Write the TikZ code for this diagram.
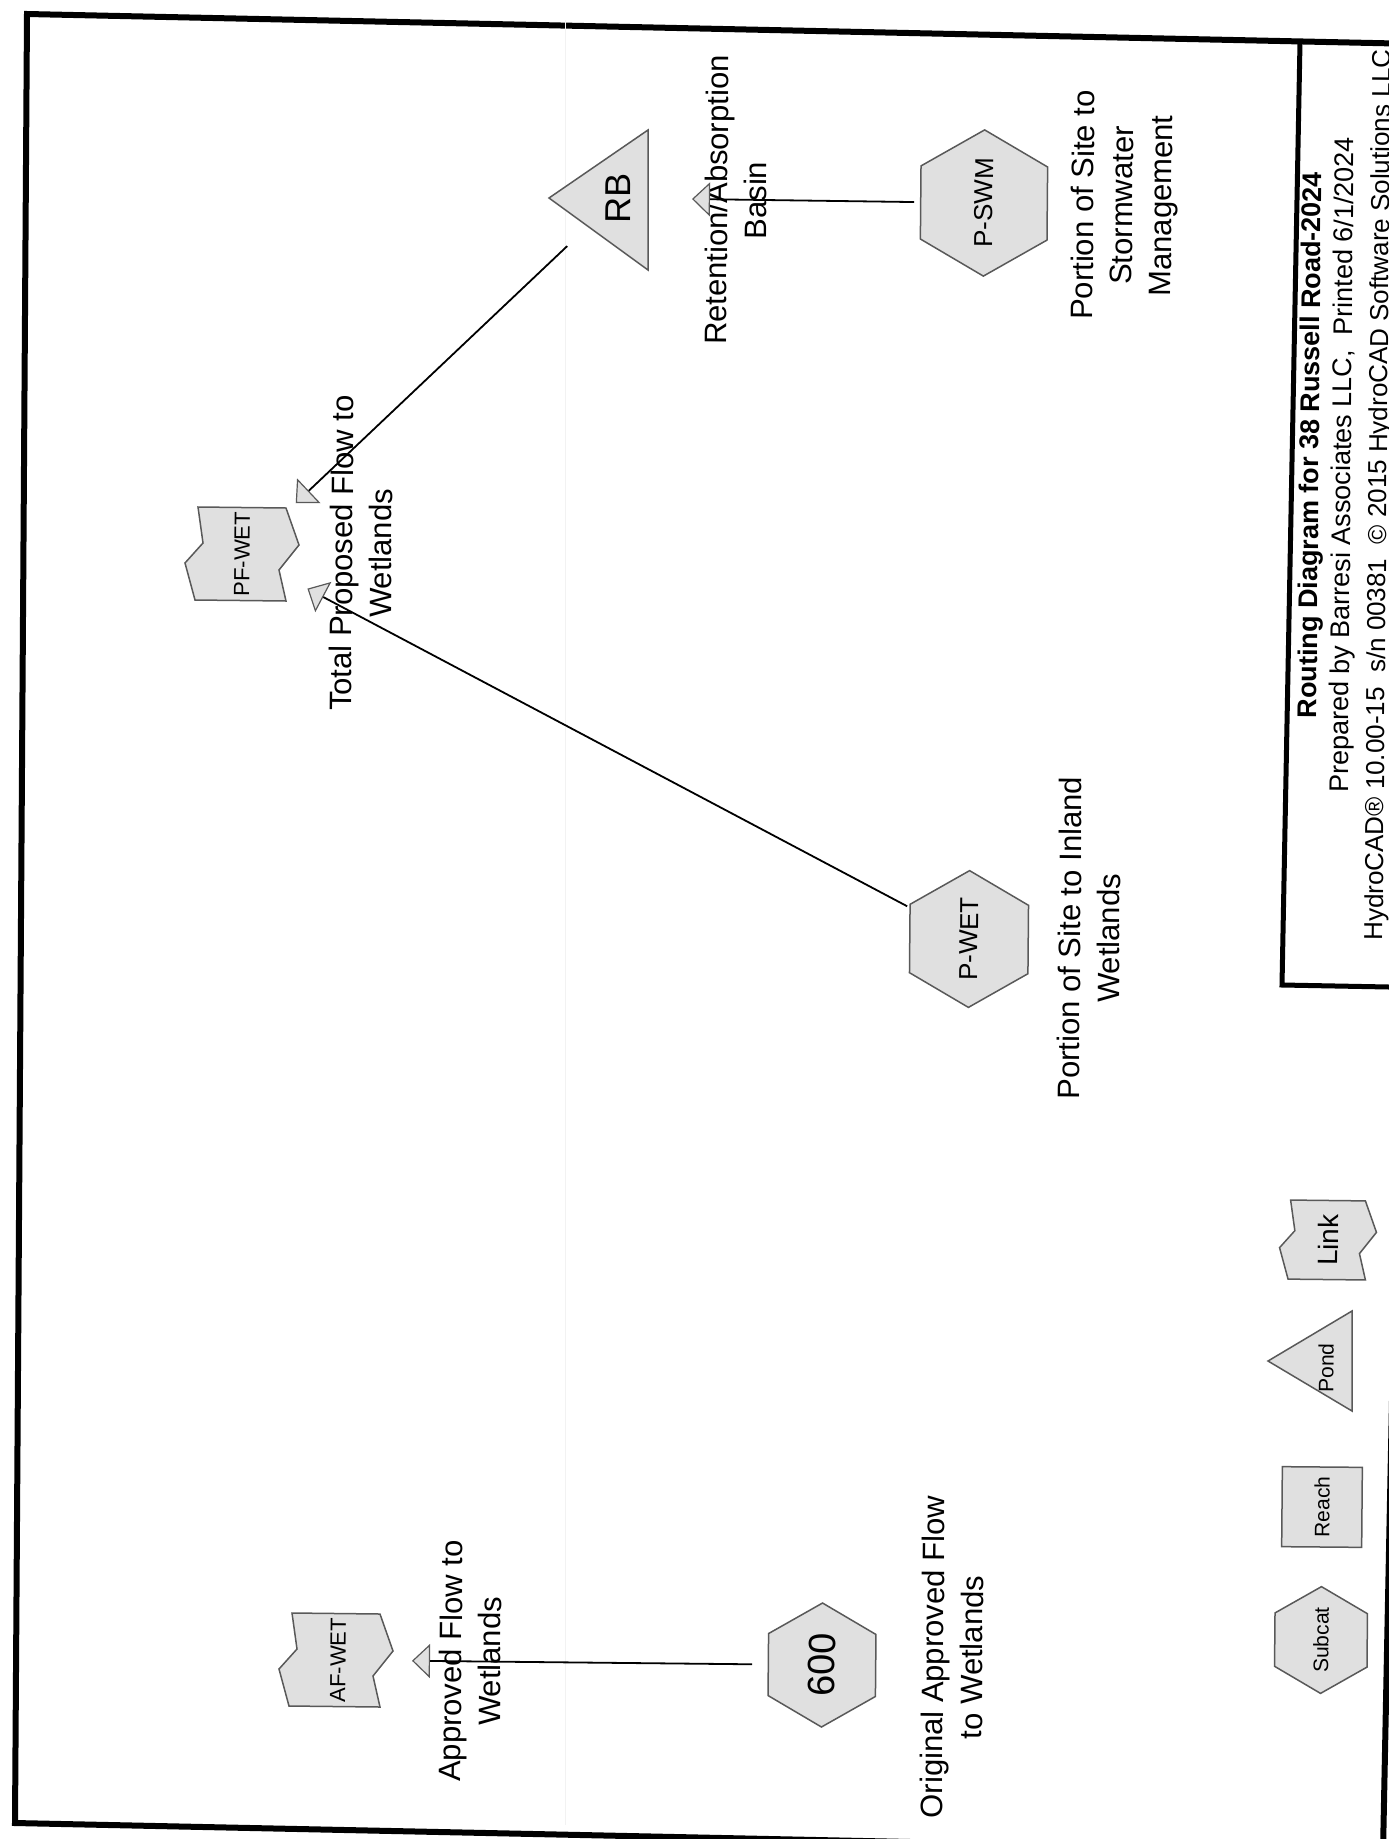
\documentclass[tikz,border=0pt]{standalone}
\usepackage{fontspec}
\setmainfont{Liberation Sans}
\usetikzlibrary{arrows.meta,shapes.geometric}
\definecolor{shade}{gray}{0.88}
\definecolor{edge}{gray}{0.35}
\tikzset{
  every node/.style={rotate=89.5,inner sep=0pt},
  shapeline/.style={draw=edge,fill=shade,line width=1.5pt},
  subcat/.style={regular polygon,regular polygon sides=6,minimum size=124pt,shapeline},
  reachbox/.style={rectangle,minimum size=80pt,shapeline},
  lbl/.style={anchor=north,align=center,font=\fontsize{31}{39}\selectfont},
  flow/.style={line width=1.8pt,shorten <=70pt,shorten >=74pt,
    -{Triangle[length=18pt,width=34pt,color=edge,fill=shade,line width=1.2pt]}},
  frame/.style={line width=6pt}
}
\begin{document}
\begin{tikzpicture}[x=1pt,y=-1pt]
  \useasboundingbox (0,0) rectangle (1389,1839);
  \clip (0,0) rectangle (1389,1839);
  % page frame and title box
  \draw[frame] (27,14) -- (1419,44) -- (1383,1852) -- (15,1823) -- cycle;
  \draw[line width=5pt] (1300,42) -- (1282,985) -- (1389,987);
  \draw[black!5,line width=1pt] (565,20) -- (565,1825);
  % pond
  \draw[shapeline] (549,198) -- (648,130) -- (648,270) -- cycle;
  \node[font=\fontsize{36}{36}\selectfont] (rb) at (618,198) {RB};
  \node[lbl] (lblrb) at (705,200) {Retention/Absorption\\Basin};
  % subcatchments
  \node[subcat,font=\fontsize{26}{26}\selectfont] (pswm) at (984,203) {P-SWM};
  \node[lbl] (lblpswm) at (1071,205) {Portion of Site to\\Stormwater\\Management};
  \node[subcat,font=\fontsize{26}{26}\selectfont] (pwet) at (969,939) {P-WET};
  \node[lbl] (lblpwet) at (1058,938) {Portion of Site to Inland\\Wetlands};
  \node[subcat,font=\fontsize{38}{38}\selectfont] (s600) at (822,1665) {600};
  \node[lbl] (lbl600) at (921,1657) {Original Approved Flow\\to Wetlands};
  % links
  \draw[shapeline,shift={(242,554)}] (-44,-47) -- (44,-46) -- (57,-9) -- (37,16) -- (44,47)
    -- (-47,46) -- (-57,9) -- (-39,-11) -- cycle;
  \node[font=\fontsize{22}{22}\selectfont] (pfwet) at (242,554) {PF-WET};
  \node[lbl] (lblpfwet) at (330,553) {Total Proposed Flow to\\Wetlands};
  \draw[shapeline,shift={(336,1660)}] (-44,-47) -- (44,-46) -- (57,-9) -- (37,16) -- (44,47)
    -- (-47,46) -- (-57,9) -- (-39,-11) -- cycle;
  \node[font=\fontsize{22}{22}\selectfont] (afwet) at (338,1660) {AF-WET};
  \node[lbl] (lblafwet) at (439,1661) {Approved Flow to\\Wetlands};
  % routing
  \draw[flow] (pswm.center) -- (rb.center);
  \draw[flow] (rb.center) -- (pfwet.center);
  \draw[flow] (pwet.center) -- (pfwet.center);
  \draw[flow] (s600.center) -- (afwet.center);
  % legend
  \node[subcat,minimum size=100pt,font=\fontsize{21}{21}\selectfont] (legsub) at (1321,1640) {Subcat};
  \node[reachbox,font=\fontsize{21}{21}\selectfont] (legreach) at (1322,1507) {Reach};
  \draw[shapeline] (1268,1361) -- (1352,1311) -- (1352,1411) -- cycle;
  \node[font=\fontsize{21}{21}\selectfont] (legpond) at (1326,1368) {Pond};
  \draw[shapeline,shift={(1328,1240)},scale=0.85] (-44,-47) -- (44,-46) -- (57,-9) -- (37,16) -- (44,47)
    -- (-47,46) -- (-57,9) -- (-39,-11) -- cycle;
  \node[font=\fontsize{28}{28}\selectfont] (leglink) at (1328,1240) {Link};
  % title block
  \node[font=\bfseries\fontsize{27}{27}\selectfont] (title) at (1312,445) {Routing Diagram for 38 Russell Road-2024};
  \node[font=\fontsize{27}{27}\selectfont] (prep) at (1344,465) {Prepared by Barresi Associates LLC,\ \ Printed 6/1/2024};
  \node[font=\fontsize{26}{26}\selectfont] (hcad) at (1380,495) {HydroCAD® 10.00-15\ \ s/n 00381\ \ © 2015 HydroCAD Software Solutions LLC};
\end{tikzpicture}
\end{document}
